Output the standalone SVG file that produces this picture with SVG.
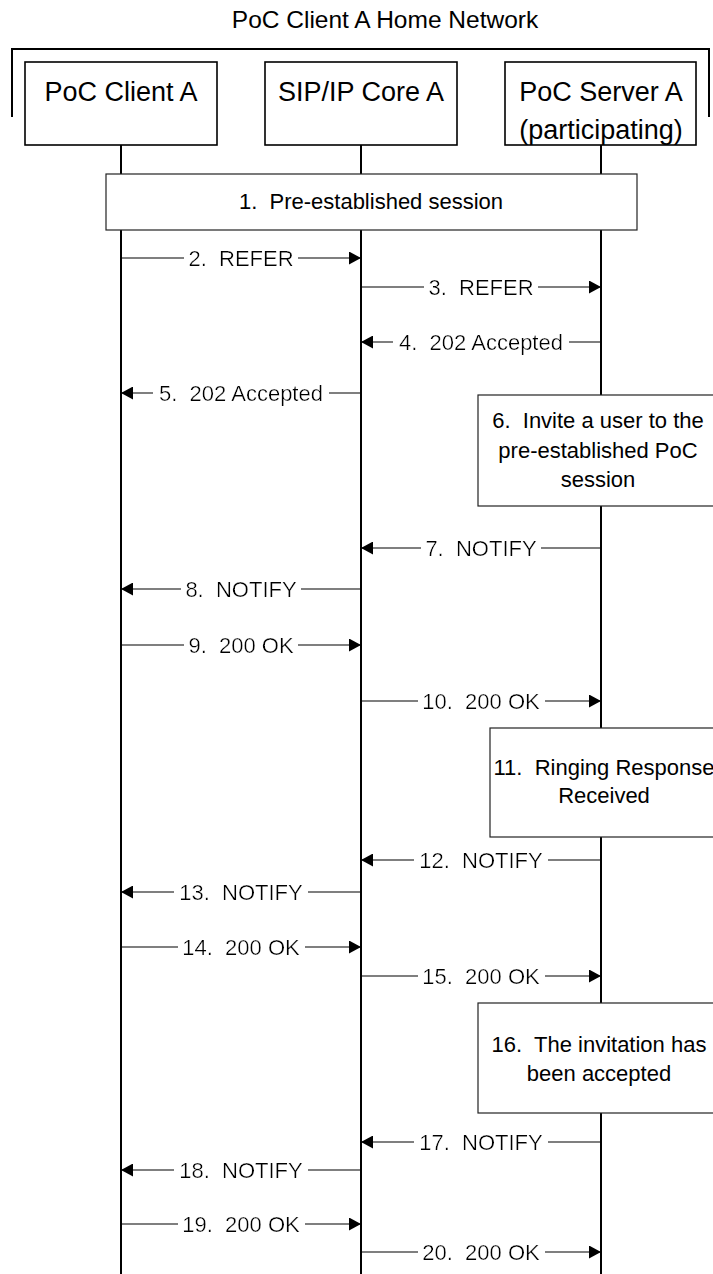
<svg xmlns="http://www.w3.org/2000/svg" width="713" height="1274" viewBox="0 0 713 1274" xml:space="preserve">
<defs>
<style>
.t{font-family:"Liberation Sans",Arial,Helvetica,sans-serif;fill:#000;white-space:pre}
.actor{fill:#fff;stroke:#000;stroke-width:1.6}
.note{fill:#fff;stroke:#222;stroke-width:1.2}
.life{stroke:#000;stroke-width:2;fill:none}
.msg{stroke:#000;stroke-width:1.2;fill:none;marker-end:url(#ah)}
.lbl{font-size:22px;text-anchor:middle;filter:url(#bg)}
.ntxt{font-size:22px;text-anchor:middle}
.atxt{font-size:27px;text-anchor:middle}
</style>
<marker id="ah" markerUnits="userSpaceOnUse" markerWidth="13" markerHeight="13" refX="12" refY="6.5" orient="auto">
<path d="M0,0 L12,6.5 L0,13 Z" fill="#000"/>
</marker>
<filter id="bg" x="-0.035" y="-0.05" width="1.07" height="1.1">
<feFlood flood-color="#fff" result="f"/>
<feComposite in="SourceGraphic" in2="f" operator="over"/>
</filter>
</defs>
<rect width="713" height="1274" fill="#fff"/>
<g id="title"><text class="t" x="385" y="28" font-size="24.5" text-anchor="middle">PoC Client A Home Network</text></g>
<g id="network-bracket"><path d="M12,117 V49 H709 V117" fill="none" stroke="#000" stroke-width="2"/></g>
<g id="lifelines">
<line class="life" x1="121" y1="145" x2="121" y2="1274"/>
<line class="life" x1="361" y1="145" x2="361" y2="1274"/>
<line class="life" x1="601" y1="145" x2="601" y2="1274"/>
</g>
<g id="client-a"><rect class="actor" x="25" y="62" width="192" height="83"/><text class="t atxt" x="121" y="101">PoC Client A</text></g>
<g id="sip-core-a"><rect class="actor" x="265" y="62" width="192" height="83"/><text class="t atxt" x="361" y="101">SIP/IP Core A</text></g>
<g id="server-a"><rect class="actor" x="505" y="62" width="191" height="83"/><text class="t atxt" x="601" y="101">PoC Server A</text><text class="t atxt" x="601" y="139">(participating)</text></g>
<g id="step1"><rect class="note" x="106" y="174" width="531" height="56"/><text class="t ntxt" x="371" y="209">1.  Pre-established session</text></g>
<g id="connectors">
<line class="msg" x1="121" y1="258" x2="361" y2="258"/><text class="t lbl" x="241" y="266">2.  REFER</text>
<line class="msg" x1="361" y1="287" x2="601" y2="287"/><text class="t lbl" x="481" y="295">3.  REFER</text>
<line class="msg" x1="601" y1="342" x2="361" y2="342"/><text class="t lbl" x="481" y="350">4.  202 Accepted</text>
<line class="msg" x1="361" y1="393" x2="121" y2="393"/><text class="t lbl" x="241" y="401">5.  202 Accepted</text>
<line class="msg" x1="601" y1="548" x2="361" y2="548"/><text class="t lbl" x="481" y="556">7.  NOTIFY</text>
<line class="msg" x1="361" y1="589" x2="121" y2="589"/><text class="t lbl" x="241" y="597">8.  NOTIFY</text>
<line class="msg" x1="121" y1="645" x2="361" y2="645"/><text class="t lbl" x="241" y="653">9.  200 OK</text>
<line class="msg" x1="361" y1="701" x2="601" y2="701"/><text class="t lbl" x="481" y="709">10.  200 OK</text>
<line class="msg" x1="601" y1="860" x2="361" y2="860"/><text class="t lbl" x="481" y="868">12.  NOTIFY</text>
<line class="msg" x1="361" y1="892" x2="121" y2="892"/><text class="t lbl" x="241" y="900">13.  NOTIFY</text>
<line class="msg" x1="121" y1="947" x2="361" y2="947"/><text class="t lbl" x="241" y="955">14.  200 OK</text>
<line class="msg" x1="361" y1="976" x2="601" y2="976"/><text class="t lbl" x="481" y="984">15.  200 OK</text>
<line class="msg" x1="601" y1="1142" x2="361" y2="1142"/><text class="t lbl" x="481" y="1150">17.  NOTIFY</text>
<line class="msg" x1="361" y1="1170" x2="121" y2="1170"/><text class="t lbl" x="241" y="1178">18.  NOTIFY</text>
<line class="msg" x1="121" y1="1224" x2="361" y2="1224"/><text class="t lbl" x="241" y="1232">19.  200 OK</text>
<line class="msg" x1="361" y1="1252" x2="601" y2="1252"/><text class="t lbl" x="481" y="1260">20.  200 OK</text>
</g>
<g id="step6"><rect class="note" x="478" y="395" width="245" height="111"/><text class="t ntxt" x="598" y="428">6.  Invite a user to the</text><text class="t ntxt" x="598" y="458">pre-established PoC</text><text class="t ntxt" x="598" y="487">session</text></g>
<g id="step11"><rect class="note" x="490" y="728" width="230" height="109"/><text class="t ntxt" x="604" y="775">11.  Ringing Response</text><text class="t ntxt" x="604" y="803">Received</text></g>
<g id="step16"><rect class="note" x="478" y="1003" width="245" height="110"/><text class="t ntxt" x="599" y="1052">16.  The invitation has</text><text class="t ntxt" x="599" y="1081">been accepted</text></g>
</svg>
